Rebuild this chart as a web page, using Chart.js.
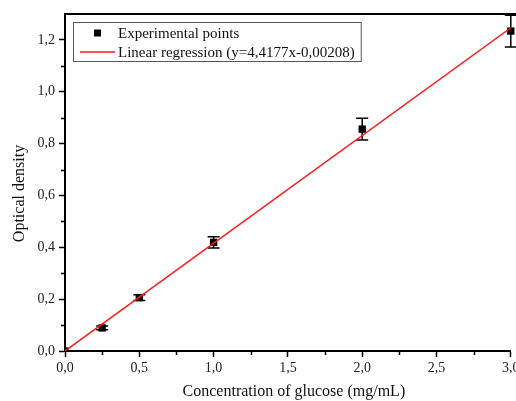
<!DOCTYPE html>
<html>
<head>
<meta charset="utf-8">
<script src="https://cdn.jsdelivr.net/npm/chart.js@4/dist/chart.umd.min.js"></script>
<style>
  html, body { margin: 0; padding: 0; background: #fff; }
  #wrap { width: 516px; height: 401px; }
</style>
</head>
<body>
<div id="wrap"><canvas id="chart"></canvas></div>
<script>
  const concentrations = [0, 0.25, 0.5, 1.0, 2.0, 3.0];
  const densities = [0.0, 0.089, 0.206, 0.419, 0.856, 1.234];
  const errors = [0, 0.007, 0.011, 0.022, 0.042, 0.061];

  const fitX = [0, 3.0];
  const fitY = [0.0, 1.247];

  const xTicks = [0, 0.5, 1.0, 1.5, 2.0, 2.5, 3.0];
  const xMinorTicks = [0.25, 0.75, 1.25, 1.75, 2.25, 2.75];
  const yTicks = [0, 0.2, 0.4, 0.6, 0.8, 1.0, 1.2];
  const yMinorTicks = [0.1, 0.3, 0.5, 0.7, 0.9, 1.1];

  const xTitle = 'Concentration of glucose (mg/mL)';
  const yTitle = 'Optical density';

  const serif = "'Liberation Serif', 'Times New Roman', serif";
  const comma = (v) => Number(v).toFixed(1).replace('.', ',');

  // error bars, drawn under the markers
  const errorBars = {
    id: 'errorBars',
    beforeDatasetsDraw(chart) {
      const { ctx, scales: { x, y } } = chart;
      ctx.save();
      ctx.strokeStyle = '#000';
      ctx.lineWidth = 1.5;
      concentrations.forEach((c, i) => {
        if (!errors[i]) return;
        const px = x.getPixelForValue(c);
        const top = y.getPixelForValue(densities[i] + errors[i]);
        const bot = y.getPixelForValue(densities[i] - errors[i]);
        ctx.beginPath();
        ctx.moveTo(px, top); ctx.lineTo(px, bot);
        ctx.moveTo(px - 6, top); ctx.lineTo(px + 6, top);
        ctx.moveTo(px - 6, bot); ctx.lineTo(px + 6, bot);
        ctx.stroke();
      });
      ctx.restore();
    }
  };

  // minor ticks, top frame, axis titles and boxed legend
  const frame = {
    id: 'frame',
    afterDraw(chart) {
      const { ctx, chartArea: a, scales: { x, y } } = chart;
      ctx.save();
      ctx.strokeStyle = '#000';
      ctx.lineWidth = 1.5;
      ctx.beginPath();
      xMinorTicks.forEach((v) => {
        const px = Math.round(x.getPixelForValue(v)) + 0.5;
        ctx.moveTo(px, a.bottom); ctx.lineTo(px, a.bottom + 4);
      });
      yMinorTicks.forEach((v) => {
        const py = Math.round(y.getPixelForValue(v)) + 0.5;
        ctx.moveTo(a.left, py); ctx.lineTo(a.left - 4, py);
      });
      ctx.stroke();

      ctx.lineWidth = 2;
      ctx.beginPath();
      ctx.moveTo(a.left, a.top); ctx.lineTo(chart.width, a.top);
      ctx.stroke();

      // axis titles
      ctx.fillStyle = '#111';
      ctx.font = '16px ' + serif;
      ctx.textAlign = 'center';
      ctx.textBaseline = 'middle';
      ctx.fillText(xTitle, (a.left + a.right) / 2 + 6, a.bottom + 41);
      ctx.save();
      ctx.translate(20, (a.top + a.bottom) / 2 + 11);
      ctx.rotate(-Math.PI / 2);
      ctx.fillText(yTitle, 0, 0);
      ctx.restore();

      // legend
      const ds = chart.data.datasets;
      const bx = a.left + 8, by = a.top + 8, rowH = 19;
      ctx.font = '15px ' + serif;
      ctx.textAlign = 'left';
      const textX = bx + 45;
      const w = Math.max(...ds.map((d) => ctx.measureText(d.label).width)) + 45 + 6;
      ctx.lineWidth = 1;
      ctx.strokeStyle = '#555';
      ctx.strokeRect(bx + 0.5, by + 0.5, w, rowH * 2 + 1);
      ds.forEach((d, i) => {
        const cy = by + 11 + i * rowH;
        if (d.type === 'line') {
          ctx.strokeStyle = d.borderColor;
          ctx.lineWidth = 1.5;
          ctx.beginPath();
          ctx.moveTo(bx + 7, cy); ctx.lineTo(bx + 42, cy);
          ctx.stroke();
        } else {
          ctx.fillStyle = '#000';
          ctx.fillRect(bx + 21, cy - 3.5, 7, 7);
        }
        ctx.fillStyle = '#111';
        ctx.fillText(d.label, textX, cy + 1);
      });
      ctx.restore();
    }
  };

  new Chart(document.getElementById('chart'), {
    type: 'scatter',
    data: {
      datasets: [
        {
          label: 'Experimental points',
          data: concentrations.map((c, i) => ({ x: c, y: densities[i] })),
          pointStyle: 'rect',
          pointRadius: 5.2,
          backgroundColor: '#000',
          borderColor: '#000',
          borderWidth: 0,
          clip: { left: 0, bottom: 0, top: false, right: false },
          order: 1
        },
        {
          type: 'line',
          label: 'Linear regression (y=4,4177x-0,00208)',
          data: fitX.map((v, i) => ({ x: v, y: fitY[i] })),
          borderColor: '#ff1a1a',
          borderWidth: 1.5,
          pointRadius: 0,
          fill: false,
          order: 0
        }
      ]
    },
    options: {
      responsive: true,
      maintainAspectRatio: false,
      animation: false,
      layout: { padding: { top: 14, right: 3, left: 0, bottom: 0 } },
      plugins: { legend: { display: false }, tooltip: { enabled: false } },
      scales: {
        x: {
          type: 'linear',
          min: 0,
          max: 3,
          afterBuildTicks: (s) => { s.ticks = xTicks.map((v) => ({ value: v })); },
          afterFit: (s) => { s.height = 50; s.paddingLeft = 0; s.paddingRight = 0; },
          border: { color: '#000', width: 2 },
          grid: { drawOnChartArea: false, tickLength: 6, tickColor: '#000', tickWidth: 1.5 },
          ticks: { color: '#222', padding: 3, font: { family: serif, size: 14 }, callback: comma, maxRotation: 0 }
        },
        y: {
          type: 'linear',
          min: 0,
          max: 1.3,
          afterBuildTicks: (s) => { s.ticks = yTicks.map((v) => ({ value: v })); },
          afterFit: (s) => { s.width = 65; s.paddingTop = 0; s.paddingBottom = 0; },
          border: { color: '#000', width: 2 },
          grid: { drawOnChartArea: false, tickLength: 6, tickColor: '#000', tickWidth: 1.5 },
          ticks: { color: '#222', padding: 4, font: { family: serif, size: 14 }, callback: comma }
        }
      }
    },
    plugins: [errorBars, frame]
  });
</script>
</body>
</html>
